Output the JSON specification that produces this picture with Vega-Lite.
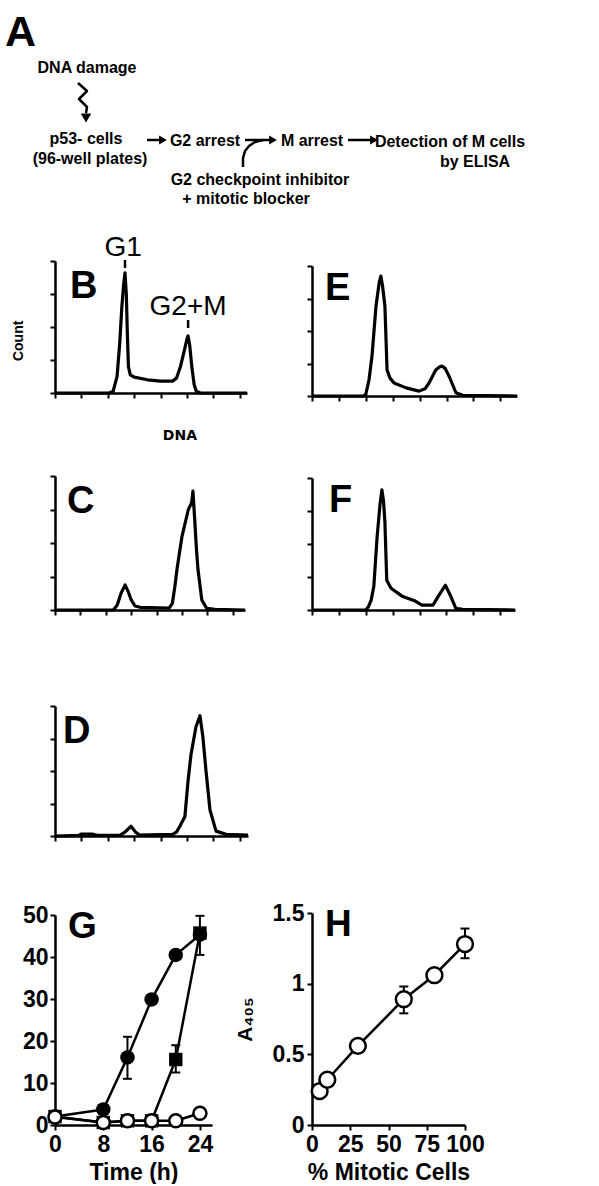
{
  "$schema": "https://vega.github.io/schema/vega-lite/v6.json",
  "padding": {"left": 5, "top": 0, "right": 0, "bottom": 0},
  "background": "white",
  "config": {
    "view": {"stroke": null},
    "font": "Liberation Sans",
    "axis": {"domainColor": "black", "tickColor": "black", "domainWidth": 2.5, "tickWidth": 2, "grid": false,
      "labelColor": "black", "labelFont": "Liberation Sans", "labelFontWeight": "bold", "labelFontSize": 23,
      "titleColor": "black", "titleFont": "Liberation Sans", "titleFontWeight": "bold", "titleFontSize": 23,
      "labelFlush": false, "labelOverlap": false, "labelBound": false},
    "text": {"color": "black"},
    "line": {"color": "black"},
    "rule": {"color": "black"}
  },
  "datasets": {
    "histB": [{"x":0,"y":0},{"x":2.05,"y":0},{"x":2.2,"y":0.05},{"x":2.35,"y":0.5},{"x":2.45,"y":1.5},{"x":2.53,"y":2.6},{"x":2.6,"y":3.3},{"x":2.65,"y":3.64},{"x":2.7,"y":3.0},{"x":2.74,"y":1.8},{"x":2.78,"y":0.8},{"x":2.85,"y":0.55},{"x":3.0,"y":0.48},{"x":3.5,"y":0.4},{"x":4.0,"y":0.36},{"x":4.45,"y":0.36},{"x":4.6,"y":0.45},{"x":4.75,"y":0.8},{"x":4.9,"y":1.3},{"x":5.0,"y":1.65},{"x":5.04,"y":1.73},{"x":5.1,"y":1.45},{"x":5.18,"y":0.8},{"x":5.27,"y":0.25},{"x":5.35,"y":0.05},{"x":5.5,"y":0},{"x":7.27,"y":0}],
    "histE": [{"x":0,"y":0},{"x":1.9,"y":0},{"x":2.0,"y":0.05},{"x":2.12,"y":0.5},{"x":2.23,"y":1.23},{"x":2.38,"y":2.77},{"x":2.5,"y":3.5},{"x":2.56,"y":3.69},{"x":2.62,"y":3.4},{"x":2.71,"y":2.77},{"x":2.79,"y":0.8},{"x":2.9,"y":0.55},{"x":3.05,"y":0.4},{"x":3.5,"y":0.25},{"x":3.98,"y":0.15},{"x":4.2,"y":0.22},{"x":4.35,"y":0.4},{"x":4.6,"y":0.8},{"x":4.75,"y":0.9},{"x":4.83,"y":0.92},{"x":4.95,"y":0.85},{"x":5.1,"y":0.6},{"x":5.35,"y":0.1},{"x":5.6,"y":0.02},{"x":7.62,"y":0}],
    "histC": [{"x":0,"y":0},{"x":2.3,"y":0},{"x":2.45,"y":0.15},{"x":2.6,"y":0.5},{"x":2.76,"y":0.75},{"x":2.88,"y":0.55},{"x":3.0,"y":0.3},{"x":3.15,"y":0.12},{"x":3.35,"y":0.08},{"x":4.5,"y":0.06},{"x":4.62,"y":0.2},{"x":4.72,"y":0.7},{"x":4.8,"y":1.2},{"x":5.0,"y":2.2},{"x":5.25,"y":3.0},{"x":5.38,"y":3.2},{"x":5.43,"y":3.55},{"x":5.5,"y":2.7},{"x":5.57,"y":1.8},{"x":5.63,"y":1.2},{"x":5.78,"y":0.3},{"x":5.97,"y":0.05},{"x":6.3,"y":0.02},{"x":7.48,"y":0}],
    "histF": [{"x":0,"y":0},{"x":2.0,"y":0},{"x":2.1,"y":0.1},{"x":2.2,"y":0.3},{"x":2.3,"y":0.72},{"x":2.42,"y":2.2},{"x":2.53,"y":3.2},{"x":2.6,"y":3.64},{"x":2.66,"y":3.3},{"x":2.71,"y":2.7},{"x":2.78,"y":0.9},{"x":2.94,"y":0.66},{"x":3.35,"y":0.42},{"x":3.84,"y":0.27},{"x":4.09,"y":0.15},{"x":4.5,"y":0.15},{"x":4.7,"y":0.42},{"x":4.96,"y":0.75},{"x":5.17,"y":0.4},{"x":5.35,"y":0.05},{"x":5.6,"y":0.02},{"x":7.55,"y":0}],
    "histD": [{"x":0,"y":0},{"x":0.9,"y":0.02},{"x":1.0,"y":0.06},{"x":1.4,"y":0.06},{"x":1.6,"y":0.02},{"x":2.45,"y":0.02},{"x":2.65,"y":0.12},{"x":2.88,"y":0.3},{"x":3.05,"y":0.12},{"x":3.2,"y":0.03},{"x":4.45,"y":0.05},{"x":4.6,"y":0.12},{"x":4.73,"y":0.3},{"x":4.92,"y":0.6},{"x":5.04,"y":1.7},{"x":5.15,"y":2.5},{"x":5.34,"y":3.36},{"x":5.49,"y":3.7},{"x":5.6,"y":3.06},{"x":5.72,"y":2.0},{"x":5.87,"y":0.8},{"x":6.1,"y":0.15},{"x":6.48,"y":0.05},{"x":7.31,"y":0.03}],
    "gdata": [
      {"series":"filled","x":0,"y":2.0},{"series":"filled","x":8,"y":3.7},{"series":"filled","x":12,"y":16.1},{"series":"filled","x":16,"y":29.9},{"series":"filled","x":20,"y":40.5},{"series":"filled","x":24,"y":45.3},
      {"series":"square","x":0,"y":2.0},{"series":"square","x":8,"y":0.6},{"series":"square","x":12,"y":1.0},{"series":"square","x":16,"y":1.0},{"series":"square","x":20,"y":15.6},{"series":"square","x":24,"y":45.7},
      {"series":"open","x":0,"y":1.9},{"series":"open","x":8,"y":0.6},{"series":"open","x":12,"y":1.0},{"series":"open","x":16,"y":1.0},{"series":"open","x":20,"y":1.0},{"series":"open","x":24,"y":2.8}
    ],
    "gerr": [{"series":"filled","x":12,"y":11,"y2":21},{"series":"square","x":20,"y":12.5,"y2":19},{"series":"square","x":24,"y":40.5,"y2":49.8}],
    "hdata": [{"x":5,"y":0.24},{"x":10,"y":0.32},{"x":30,"y":0.56},{"x":60,"y":0.89},{"x":80,"y":1.06},{"x":100,"y":1.28}],
    "herr": [{"x":60,"y":0.79,"y2":0.98},{"x":100,"y":1.18,"y2":1.39}]
  },
  "columns": 2,
  "bounds": "flush",
  "spacing": {"row": 58, "column": 64},
  "concat": [
    {
      "width": 193, "height": 200,
      "encoding": {
        "x": {"field": "x", "type": "quantitative", "scale": {"domain": [55, 248], "nice": false, "zero": false}, "axis": null},
        "y": {"field": "y", "type": "quantitative", "scale": {"domain": [0, 200], "nice": false, "zero": false, "reverse": true}, "axis": null}
      },
      "layer": [
        {"data": {"values": [{"label": "A", "x": 5, "y": 43}]},
         "mark": {"type": "text", "align": "left", "baseline": "alphabetic", "fontSize": 43, "fontWeight": "bold"},
         "encoding": {"text": {"field": "label"}}},
        {"data": {"values": [
          {"label": "DNA damage", "x": 87, "y": 70},
          {"label": "p53- cells", "x": 86, "y": 141},
          {"label": "(96-well plates)", "x": 90, "y": 161},
          {"label": "G2 arrest", "x": 205, "y": 143},
          {"label": "M arrest", "x": 312, "y": 143},
          {"label": "Detection of M cells", "x": 450, "y": 144},
          {"label": "by ELISA", "x": 475, "y": 164},
          {"label": "G2 checkpoint inhibitor", "x": 260, "y": 182},
          {"label": "+ mitotic blocker", "x": 246, "y": 201}
         ]},
         "mark": {"type": "text", "align": "center", "baseline": "alphabetic", "fontSize": 16, "fontWeight": "bold"},
         "encoding": {"text": {"field": "label"}}},
        {"data": {"values": [
          {"path": "wave", "i": 0, "x": 78, "y": 80}, {"path": "wave", "i": 1, "x": 87, "y": 88}, {"path": "wave", "i": 2, "x": 79, "y": 96}, {"path": "wave", "i": 3, "x": 87, "y": 104}, {"path": "wave", "i": 4, "x": 86, "y": 110},
          {"path": "a1", "i": 0, "x": 147, "y": 137}, {"path": "a1", "i": 1, "x": 160, "y": 137},
          {"path": "a2", "i": 0, "x": 245, "y": 137}, {"path": "a2", "i": 1, "x": 271, "y": 137},
          {"path": "a3", "i": 0, "x": 348, "y": 137}, {"path": "a3", "i": 1, "x": 372, "y": 137},
          {"path": "curve", "i": 0, "x": 243, "y": 164}, {"path": "curve", "i": 1, "x": 243, "y": 155}, {"path": "curve", "i": 2, "x": 245, "y": 148}, {"path": "curve", "i": 3, "x": 249, "y": 143}, {"path": "curve", "i": 4, "x": 255, "y": 139}, {"path": "curve", "i": 5, "x": 263, "y": 137}
         ]},
         "mark": {"type": "line", "strokeWidth": 2.5, "strokeJoin": "round"},
         "encoding": {"detail": {"field": "path"}, "order": {"field": "i", "type": "quantitative"}}},
        {"data": {"values": [{"x": 163, "y": 137}, {"x": 273, "y": 137}, {"x": 374, "y": 137}]},
         "mark": {"type": "point", "shape": "triangle-right", "filled": true, "color": "black", "size": 80, "opacity": 1}},
        {"data": {"values": [{"x": 86, "y": 115}]},
         "mark": {"type": "point", "shape": "triangle-down", "filled": true, "color": "black", "size": 110, "opacity": 1}}
      ]
    },
    {
      "width": 1, "height": 1,
      "data": {"values": [{}]},
      "mark": {"type": "point", "opacity": 0}
    },
    {
      "width": 192, "height": 132,
      "encoding": {
        "x": {"field": "x", "type": "quantitative", "scale": {"domain": [0, 7.27], "nice": false, "zero": false}, "axis": {"values": [0,1,2,3,4,5,6,7], "labels": false, "tickSize": 5}, "title": null},
        "y": {"field": "y", "type": "quantitative", "scale": {"domain": [0, 4], "nice": false, "zero": false}, "axis": {"values": [0,1,2,3,4], "labels": false, "tickSize": 5}, "title": null}
      },
      "layer": [
        {"data": {"name": "histB"}, "mark": {"type": "line", "strokeWidth": 3.2, "strokeJoin": "round"}},
        {"data": {"values": [{"label": "B", "x": 0.57, "y": 2.88}]},
         "mark": {"type": "text", "align": "left", "baseline": "alphabetic", "fontSize": 38, "fontWeight": "bold"},
         "encoding": {"text": {"field": "label"}}},
        {"data": {"values": [{"label": "G1", "x": 2.58, "y": 4.15}, {"label": "G2+M", "x": 5.04, "y": 2.36}]},
         "mark": {"type": "text", "align": "center", "baseline": "alphabetic", "fontSize": 28, "fontWeight": "normal"},
         "encoding": {"text": {"field": "label"}}},
        {"data": {"values": [{"x": 2.65, "y": 3.79, "y2": 4.03}, {"x": 5.04, "y": 1.97, "y2": 2.21}]},
         "mark": {"type": "rule", "strokeWidth": 2.5},
         "encoding": {"y2": {"field": "y2"}}},
        {"data": {"values": [{"label": "Count", "x": -1.36, "y": 1.58}]},
         "mark": {"type": "text", "align": "center", "baseline": "middle", "angle": 270, "fontSize": 14, "fontWeight": "bold"},
         "encoding": {"text": {"field": "label"}}},
        {"data": {"values": [{"label": "DNA", "x": 4.73, "y": -1.3}]},
         "mark": {"type": "text", "align": "center", "baseline": "middle", "fontSize": 14, "fontWeight": "bold", "font": "DejaVu Sans"},
         "encoding": {"text": {"field": "label"}}}
      ]
    },
    {
      "width": 205, "height": 135,
      "encoding": {
        "x": {"field": "x", "type": "quantitative", "scale": {"domain": [0, 7.62], "nice": false, "zero": false}, "axis": {"values": [0,1,2,3,4,5,6,7], "labels": false, "tickSize": 5}, "title": null},
        "y": {"field": "y", "type": "quantitative", "scale": {"domain": [0, 4], "range": [135, 5], "nice": false, "zero": false}, "axis": {"values": [0,1,2,3,4], "labels": false, "tickSize": 5}, "title": null}
      },
      "layer": [
        {"data": {"name": "histE"}, "mark": {"type": "line", "strokeWidth": 3.2, "strokeJoin": "round"}},
        {"data": {"values": [{"label": "E", "x": 0.48, "y": 2.95}]},
         "mark": {"type": "text", "align": "left", "baseline": "alphabetic", "fontSize": 38, "fontWeight": "bold"},
         "encoding": {"text": {"field": "label"}}}
      ]
    },
    {
      "width": 190, "height": 156,
      "encoding": {
        "x": {"field": "x", "type": "quantitative", "scale": {"domain": [0, 7.48], "nice": false, "zero": false}, "axis": {"values": [0,1,2,3,4,5,6,7], "labels": false, "tickSize": 5}, "title": null},
        "y": {"field": "y", "type": "quantitative", "scale": {"domain": [0, 4], "range": [156, 22], "nice": false, "zero": false}, "axis": {"values": [0,1,2,3,4], "labels": false, "tickSize": 5}, "title": null}
      },
      "layer": [
        {"data": {"name": "histC"}, "mark": {"type": "line", "strokeWidth": 3.2, "strokeJoin": "round"}},
        {"data": {"values": [{"label": "C", "x": 0.47, "y": 2.9}]},
         "mark": {"type": "text", "align": "left", "baseline": "alphabetic", "fontSize": 38, "fontWeight": "bold"},
         "encoding": {"text": {"field": "label"}}}
      ]
    },
    {
      "width": 203, "height": 156,
      "encoding": {
        "x": {"field": "x", "type": "quantitative", "scale": {"domain": [0, 7.55], "nice": false, "zero": false}, "axis": {"values": [0,1,2,3,4,5,6,7], "labels": false, "tickSize": 5}, "title": null},
        "y": {"field": "y", "type": "quantitative", "scale": {"domain": [0, 4], "range": [156, 24], "nice": false, "zero": false}, "axis": {"values": [0,1,2,3,4], "labels": false, "tickSize": 5}, "title": null}
      },
      "layer": [
        {"data": {"name": "histF"}, "mark": {"type": "line", "strokeWidth": 3.2, "strokeJoin": "round"}},
        {"data": {"values": [{"label": "F", "x": 0.63, "y": 2.97}]},
         "mark": {"type": "text", "align": "left", "baseline": "alphabetic", "fontSize": 38, "fontWeight": "bold"},
         "encoding": {"text": {"field": "label"}}}
      ]
    },
    {
      "width": 193, "height": 168,
      "encoding": {
        "x": {"field": "x", "type": "quantitative", "scale": {"domain": [0, 7.31], "nice": false, "zero": false}, "axis": {"values": [0,1,2,3,4,5,6,7], "labels": false, "tickSize": 5}, "title": null},
        "y": {"field": "y", "type": "quantitative", "scale": {"domain": [0, 4], "range": [168, 38], "nice": false, "zero": false}, "axis": {"values": [0,1,2,3,4], "labels": false, "tickSize": 5}, "title": null}
      },
      "layer": [
        {"data": {"name": "histD"}, "mark": {"type": "line", "strokeWidth": 3.2, "strokeJoin": "round"}},
        {"data": {"values": [{"label": "D", "x": 0.3, "y": 2.86}]},
         "mark": {"type": "text", "align": "left", "baseline": "alphabetic", "fontSize": 38, "fontWeight": "bold"},
         "encoding": {"text": {"field": "label"}}}
      ]
    },
    {
      "width": 1, "height": 1,
      "data": {"values": [{}]},
      "mark": {"type": "point", "opacity": 0}
    },
    {
      "width": 157, "height": 231,
      "encoding": {
        "x": {"field": "x", "type": "quantitative", "scale": {"domain": [0, 26], "nice": false, "zero": false}, "axis": {"values": [0, 8, 16, 24], "tickSize": 5, "labelPadding": 3, "titlePadding": 5}, "title": "Time (h)"},
        "y": {"field": "y", "type": "quantitative", "scale": {"domain": [0, 50], "range": [231, 21], "nice": false, "zero": false}, "axis": {"values": [0, 10, 20, 30, 40, 50], "tickSize": 5, "labelPadding": 2}, "title": null}
      },
      "layer": [
        {"data": {"name": "gdata"}, "mark": {"type": "line", "strokeWidth": 2.5, "strokeJoin": "round"},
         "encoding": {"detail": {"field": "series"}}},
        {"data": {"name": "gerr"}, "mark": {"type": "rule", "strokeWidth": 2},
         "encoding": {"y2": {"field": "y2"}}},
        {"data": {"name": "gerr"}, "transform": [{"fold": ["y", "y2"], "as": ["end", "y"]}],
         "mark": {"type": "tick", "orient": "horizontal", "size": 9, "thickness": 2, "color": "black", "opacity": 1}},
        {"data": {"name": "gdata"}, "transform": [{"filter": "datum.series === 'square'"}],
         "mark": {"type": "point", "shape": "square", "filled": true, "color": "black", "size": 180, "opacity": 1}},
        {"data": {"name": "gdata"}, "transform": [{"filter": "datum.series === 'filled'"}],
         "mark": {"type": "point", "shape": "circle", "filled": true, "color": "black", "size": 210, "opacity": 1}},
        {"data": {"name": "gdata"}, "transform": [{"filter": "datum.series === 'open'"}],
         "mark": {"type": "point", "shape": "circle", "filled": true, "fill": "white", "stroke": "black", "strokeWidth": 2.5, "size": 170, "opacity": 1}},
        {"data": {"values": [{"label": "G", "x": 2.15, "y": 44.5}]},
         "mark": {"type": "text", "align": "left", "baseline": "alphabetic", "fontSize": 37, "fontWeight": "bold"},
         "encoding": {"text": {"field": "label"}}}
      ]
    },
    {
      "width": 153, "height": 231,
      "encoding": {
        "x": {"field": "x", "type": "quantitative", "scale": {"domain": [0, 100], "nice": false, "zero": false}, "axis": {"values": [0, 25, 50, 75, 100], "tickSize": 5, "labelPadding": 3, "titlePadding": 5}, "title": "% Mitotic Cells"},
        "y": {"field": "y", "type": "quantitative", "scale": {"domain": [0, 1.5], "range": [231, 19], "nice": false, "zero": false}, "axis": {"values": [0, 0.5, 1, 1.5], "format": "~g", "tickSize": 5, "labelPadding": 3, "titlePadding": 17, "titleFontSize": 21}, "title": "A₄₀₅"}
      },
      "layer": [
        {"data": {"name": "hdata"}, "mark": {"type": "line", "strokeWidth": 2.5, "strokeJoin": "round"}},
        {"data": {"name": "herr"}, "mark": {"type": "rule", "strokeWidth": 2},
         "encoding": {"y2": {"field": "y2"}}},
        {"data": {"name": "herr"}, "transform": [{"fold": ["y", "y2"], "as": ["end", "y"]}],
         "mark": {"type": "tick", "orient": "horizontal", "size": 9, "thickness": 2, "color": "black", "opacity": 1}},
        {"data": {"name": "hdata"},
         "mark": {"type": "point", "shape": "circle", "filled": true, "fill": "white", "stroke": "black", "strokeWidth": 2.5, "size": 250, "opacity": 1}},
        {"data": {"values": [{"label": "H", "x": 8.5, "y": 1.34}]},
         "mark": {"type": "text", "align": "left", "baseline": "alphabetic", "fontSize": 37, "fontWeight": "bold"},
         "encoding": {"text": {"field": "label"}}}
      ]
    }
  ]
}
